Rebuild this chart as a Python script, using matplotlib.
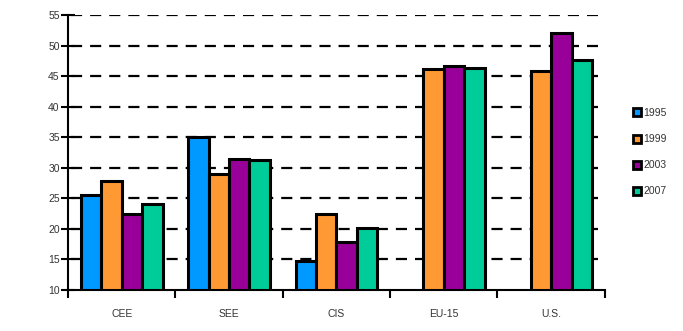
import matplotlib
matplotlib.use("Agg")
import matplotlib.pyplot as plt
from matplotlib.lines import Line2D
import numpy as np

plt.rcParams["font.family"] = ["Liberation Sans", "DejaVu Sans"]

regions = ["CEE", "SEE", "CIS", "EU-15", "U.S."]
years = ["1995", "1999", "2003", "2007"]
colors = ["#0099FF", "#FF9933", "#990099", "#00CC99"]

# values per year, one entry per region (None = no bar)
v1995 = [25.6, 35.1, 14.7, None, None]
v1999 = [27.9, 28.9, 22.5, 46.1, 45.9]
v2003 = [22.4, 31.5, 17.9, 46.6, 52.1]
v2007 = [24.0, 31.2, 20.1, 46.3, 47.6]
series = [v1995, v1999, v2003, v2007]

fig = plt.figure(figsize=(6.83, 3.31), dpi=100)
ax = fig.add_axes([0.0996, 0.1239, 0.786, 0.8308])

base = 10
width = 0.19
centers = np.arange(len(regions)) + 0.5
for i, (vals, col) in enumerate(zip(series, colors)):
    xs = [c + (i - 1.5) * width for c, v in zip(centers, vals) if v is not None]
    hs = [v - base for v in vals if v is not None]
    ax.bar(xs, hs, width=width, bottom=base, color=col,
           edgecolor="black", linewidth=2.2, zorder=3)

ax.set_ylim(10, 55)
ax.set_xlim(0, 5)
ax.set_yticks(range(10, 56, 5))
for y in range(15, 56, 5):
    ax.plot([0.03, 4.94], [y, y], color="black", lw=1.6,
            dashes=(5, 3.6), zorder=1)

ax.set_xticks(range(0, 6))
ax.set_xticklabels([])
ax.set_xticks(centers, minor=True)
ax.set_xticklabels(regions, minor=True)
ax.tick_params(axis="x", which="major", direction="out", length=6, width=1.5)
ax.tick_params(axis="x", which="minor", length=0, pad=14,
               labelsize=7.5, labelcolor="#333333")
ax.tick_params(axis="y", direction="inout", length=10, width=1.5,
               labelsize=7.5, labelcolor="#333333", pad=1)

for s in ["top", "right"]:
    ax.spines[s].set_visible(False)
for s in ["left", "bottom"]:
    ax.spines[s].set_linewidth(1.5)

handles = [Line2D([], [], marker="s", ls="", markersize=5.5,
                  markerfacecolor=c, markeredgecolor="black",
                  markeredgewidth=2) for c in colors]
fig.legend(handles, years, loc="center left",
           bbox_to_anchor=(0.926, 0.54), frameon=False, fontsize=7.5,
           handlelength=0.8, handletextpad=0.25, labelspacing=1.55,
           labelcolor="#333333", borderaxespad=0, borderpad=0)

fig.savefig("out.png", dpi=100)
